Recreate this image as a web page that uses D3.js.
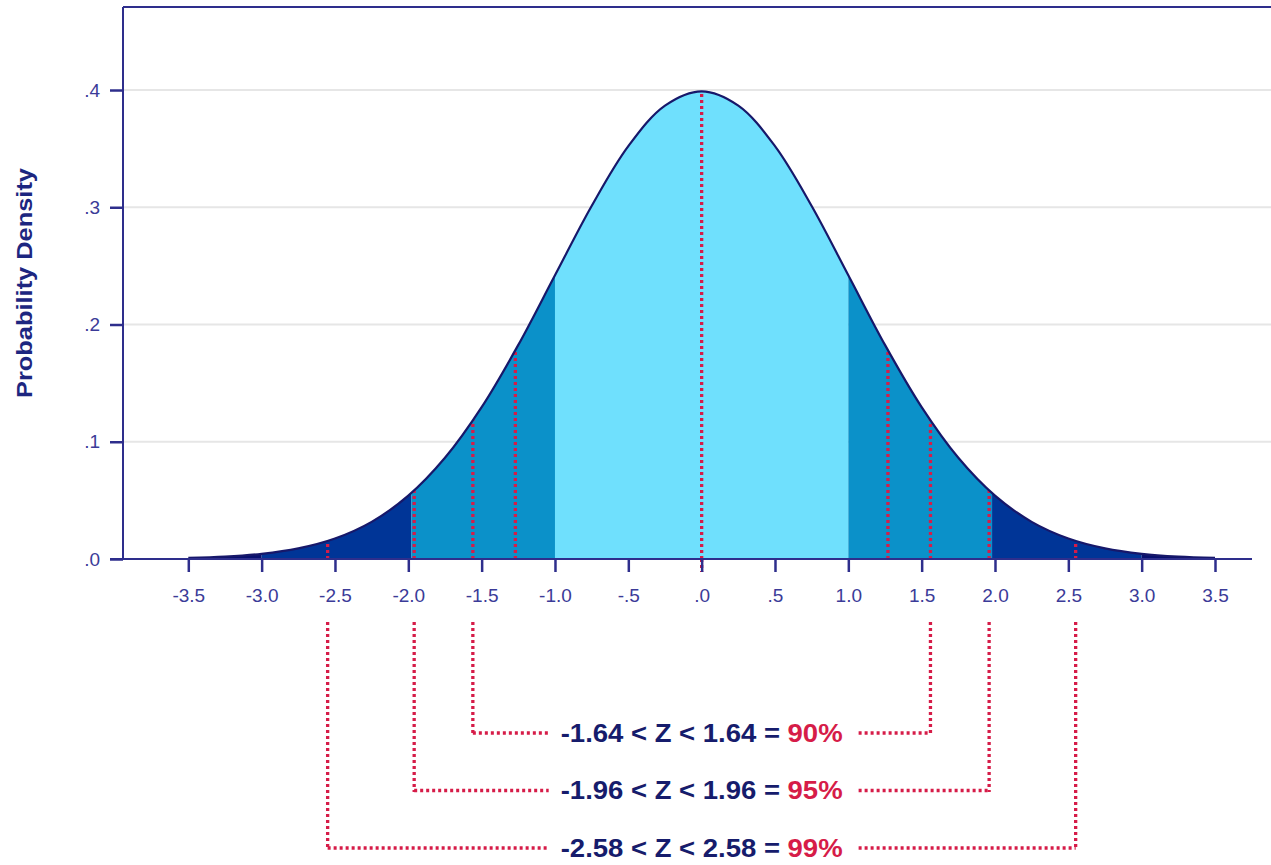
<!DOCTYPE html>
<html>
<head>
<meta charset="utf-8">
<script src="https://cdn.jsdelivr.net/npm/d3@7"></script>
<style>
  html, body { margin: 0; padding: 0; background: #ffffff; }
  svg { display: block; font-family: "Liberation Sans", Arial, Helvetica, sans-serif; }
</style>
</head>
<body>
<svg id="chart" width="1271" height="865"></svg>
<script>
// ---- data ----
const zValues = [-3.5, -3.25, -3.0, -2.75, -2.5, -2.25, -2.0, -1.75, -1.5, -1.25, -1.0, -0.75, -0.5, -0.25, 0,
                 0.25, 0.5, 0.75, 1.0, 1.25, 1.5, 1.75, 2.0, 2.25, 2.5, 2.75, 3.0, 3.25, 3.5];
const densityValues = [0.0009, 0.0020, 0.0044, 0.0091, 0.0175, 0.0317, 0.0540, 0.0863, 0.1295, 0.1826, 0.2420, 0.3011, 0.3521, 0.3867, 0.3989,
                       0.3867, 0.3521, 0.3011, 0.2420, 0.1826, 0.1295, 0.0863, 0.0540, 0.0317, 0.0175, 0.0091, 0.0044, 0.0020, 0.0009];

const xTickValues = [-3.5, -3.0, -2.5, -2.0, -1.5, -1.0, -0.5, 0, 0.5, 1.0, 1.5, 2.0, 2.5, 3.0, 3.5];
const xTickLabels = ["-3.5", "-3.0", "-2.5", "-2.0", "-1.5", "-1.0", "-.5", ".0", ".5", "1.0", "1.5", "2.0", "2.5", "3.0", "3.5"];
const yTickValues = [0, 0.1, 0.2, 0.3, 0.4];
const yTickLabels = [".0", ".1", ".2", ".3", ".4"];
const yAxisTitle = "Probability Density";

const bandEdges = [-3.5, -3.0, -1.98, -1.0, 1.0, 1.98, 3.0, 3.5];
const bandColors = ["#07106e", "#003597", "#0b91c9", "#6fe0fd", "#0b91c9", "#003597", "#07106e"];

const markerZ = [-2.55, -1.96, -1.56, -1.27, 0, 1.27, 1.56, 1.96, 2.55];

const intervalLow = [-1.56, -1.96, -2.55];
const intervalHigh = [1.56, 1.96, 2.55];
const intervalText = ["-1.64 < Z < 1.64 = ", "-1.96 < Z < 1.96 = ", "-2.58 < Z < 2.58 = "];
const intervalPct = ["90%", "95%", "99%"];

// ---- style / layout ----
const axisColor = "#2e2e8c";
const tickTextColor = "#3b3b98";
const curveColor = "#17186a";
const gridColor = "#e6e6e6";
const red = "#d61c48";
const navyText = "#161c6c";

const plotLeft = 123, plotTop = 7, plotBottom = 559, plotRight = 1271, axisEnd = 1252;
const tickLen = 13;

const svg = d3.select("#chart");

const x = d3.scaleLinear().domain([-3.5, 3.5]).range([188.3, 1215]);
const y = d3.scaleLinear().domain([0, 0.4708]).range([plotBottom, plotTop]);

const pts = zValues.map((z, i) => ({ z: z, d: densityValues[i] }));

// gridlines
svg.append("g").selectAll("line")
  .data(yTickValues.filter(v => v > 0))
  .join("line")
  .attr("x1", plotLeft).attr("x2", plotRight)
  .attr("y1", d => y(d)).attr("y2", d => y(d))
  .attr("stroke", gridColor).attr("stroke-width", 2);

// area clip
const areaGen = d3.area()
  .x(d => x(d.z)).y0(y(0)).y1(d => y(d.d))
  .curve(d3.curveCatmullRom.alpha(0.5));
const lineGen = d3.line()
  .x(d => x(d.z)).y(d => y(d.d))
  .curve(d3.curveCatmullRom.alpha(0.5));

svg.append("defs").append("clipPath").attr("id", "areaClip")
  .append("path").attr("d", areaGen(pts));

// bands
const bands = bandColors.map((c, i) => ({ a: bandEdges[i], b: bandEdges[i + 1], c: c }));
svg.append("g").attr("clip-path", "url(#areaClip)")
  .selectAll("rect").data(bands).join("rect")
  .attr("x", d => x(d.a)).attr("width", d => x(d.b) - x(d.a))
  .attr("y", plotTop).attr("height", plotBottom - plotTop)
  .attr("fill", d => d.c);

const dotW = 3.3, dotDash = "3,3";

// red markers inside the curve
const markerG = svg.append("g").attr("clip-path", "url(#areaClip)");
markerG.selectAll("line").data(markerZ).join("line")
  .attr("x1", d => x(d)).attr("x2", d => x(d))
  .attr("y1", y(0)).attr("y2", plotTop)
  .attr("stroke", red).attr("stroke-width", dotW).attr("stroke-dasharray", dotDash);
// centre marker extends a bit below the axis
svg.append("line")
  .attr("x1", x(0)).attr("x2", x(0))
  .attr("y1", y(0)).attr("y2", y(0) + tickLen)
  .attr("stroke", red).attr("stroke-width", dotW).attr("stroke-dasharray", dotDash);

// curve outline
svg.append("path").attr("d", lineGen(pts))
  .attr("fill", "none").attr("stroke", curveColor).attr("stroke-width", 2.2);

// frame lines
svg.append("line").attr("x1", plotLeft).attr("x2", plotRight)
  .attr("y1", plotTop).attr("y2", plotTop).attr("stroke", axisColor).attr("stroke-width", 2);
svg.append("line").attr("x1", plotLeft).attr("x2", plotLeft)
  .attr("y1", plotTop).attr("y2", plotBottom).attr("stroke", axisColor).attr("stroke-width", 2);
svg.append("line").attr("x1", plotLeft - tickLen).attr("x2", axisEnd)
  .attr("y1", plotBottom).attr("y2", plotBottom).attr("stroke", axisColor).attr("stroke-width", 2);

// y axis
const yAxis = d3.axisLeft(y).tickValues(yTickValues)
  .tickFormat((d, i) => yTickLabels[i]).tickSize(tickLen).tickPadding(10);
const yg = svg.append("g").attr("transform", `translate(${plotLeft},0)`).call(yAxis);
yg.select(".domain").remove();
yg.selectAll(".tick line").attr("stroke", axisColor).attr("stroke-width", 2.5);
yg.selectAll(".tick text").attr("fill", tickTextColor).style("font-size", "19px")
  .style("font-family", "'Liberation Sans', Arial, sans-serif");

// x axis
const xAxis = d3.axisBottom(x).tickValues(xTickValues)
  .tickFormat((d, i) => xTickLabels[i]).tickSize(tickLen).tickPadding(17);
const xg = svg.append("g").attr("transform", `translate(0,${plotBottom})`).call(xAxis);
xg.select(".domain").remove();
xg.selectAll(".tick line").attr("stroke", axisColor).attr("stroke-width", 2.5);
xg.selectAll(".tick text").attr("fill", tickTextColor).style("font-size", "19px")
  .style("font-family", "'Liberation Sans', Arial, sans-serif");

// y axis title
svg.append("text")
  .attr("transform", "translate(32,283) rotate(-90)")
  .attr("text-anchor", "middle")
  .attr("fill", "#1d2680")
  .style("font-size", "22px").style("font-weight", "bold")
  .attr("textLength", 230).attr("lengthAdjust", "spacingAndGlyphs")
  .text(yAxisTitle);

// interval brackets
const rowY = d3.scalePoint().domain(intervalPct).range([733, 848]);
const bracketTop = 622;
function dotted(sel) {
  return sel.attr("stroke", red).attr("stroke-width", dotW).attr("stroke-dasharray", dotDash);
}
const bg = svg.append("g");
intervalPct.forEach((pct, i) => {
  const ry = rowY(pct);
  const cx = x(0);
  const t = bg.append("text")
    .attr("transform", `translate(${cx},${ry}) scale(1.1,1)`)
    .attr("text-anchor", "middle")
    .attr("dy", "0.35em")
    .style("font-size", "25px").style("font-weight", "bold");
  t.append("tspan").attr("fill", navyText).text(intervalText[i]);
  t.append("tspan").attr("fill", red).text(pct);
  const bb = t.node().getBBox();
  const left = cx + bb.x * 1.1 - 12;
  const right = cx + (bb.x + bb.width) * 1.1 + 16;
  const xl = x(intervalLow[i]), xh = x(intervalHigh[i]);
  dotted(bg.append("line").attr("x1", xl).attr("x2", xl).attr("y1", bracketTop).attr("y2", ry + 1.5));
  dotted(bg.append("line").attr("x1", xh).attr("x2", xh).attr("y1", bracketTop).attr("y2", ry + 1.5));
  dotted(bg.append("line").attr("x1", xl).attr("x2", left).attr("y1", ry).attr("y2", ry));
  dotted(bg.append("line").attr("x1", right).attr("x2", xh).attr("y1", ry).attr("y2", ry));
});
</script>
</body>
</html>
